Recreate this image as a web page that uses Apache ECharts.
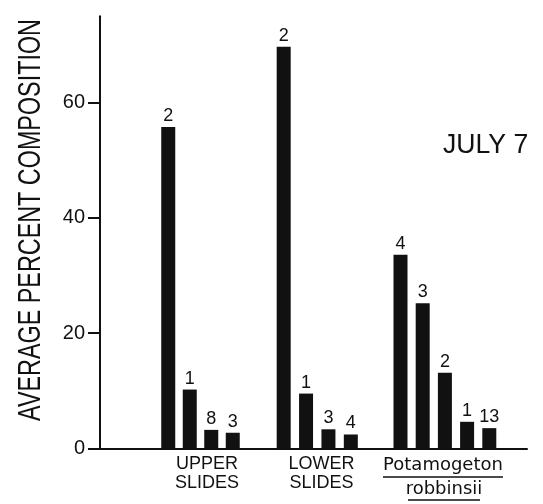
<!DOCTYPE html>
<html>
<head>
<meta charset="utf-8">
<script src="https://cdn.jsdelivr.net/npm/echarts@6/dist/echarts.min.js"></script>
<style>
html,body{margin:0;padding:0;background:#fff;}
#chart{width:543px;height:504px;}
</style>
</head>
<body>
<div id="chart"></div>
<script>
// ---- data ----
const yTicks = [0, 20, 40, 60];
const yMax = 75;
const groupNames = ['UPPER\nSLIDES', 'LOWER\nSLIDES', 'Potamogeton\nrobbinsii'];
const upperSlides = [55.8, 10.2, 3.2, 2.7];
const lowerSlides = [69.7, 9.5, 3.3, 2.4];
const potamogeton = [33.6, 25.2, 13.1, 4.6, 3.5];
const upperLabels = ['2', '1', '8', '3'];
const lowerLabels = ['2', '1', '3', '4'];
const potamogetonLabels = ['4', '3', '2', '1', '13'];
const yTitle = 'AVERAGE PERCENT COMPOSITION';
const dateText = 'JULY 7';

// ---- layout ----
const TOP = 16.3, HEIGHT = 432;
const panels = [
  {left: 157.5, width: 86, values: upperSlides, labels: upperLabels},
  {left: 272.5, width: 89.5, values: lowerSlides, labels: lowerLabels},
  {left: 389.4, width: 111, values: potamogeton, labels: potamogetonLabels}
];
const INK = '#111';
const FONT = '"Liberation Sans", Arial, sans-serif';

const grids = [{left: 100, top: TOP, width: 427, height: HEIGHT}];
const xAxes = [{
  gridIndex: 0, type: 'value', min: 0, max: 1,
  axisLine: {show: true, lineStyle: {color: INK, width: 2}},
  axisTick: {show: false}, axisLabel: {show: false}, splitLine: {show: false}
}];
const yAxes = [{
  gridIndex: 0, type: 'value', min: 0, max: yMax, interval: 20,
  axisLine: {show: true, lineStyle: {color: INK, width: 2}},
  axisTick: {show: true, length: 12, inside: false, customValues: yTicks, lineStyle: {color: INK, width: 2}},
  axisLabel: {show: true, customValues: yTicks, margin: 15, fontSize: 20, color: INK, fontFamily: FONT},
  splitLine: {show: false}
}];
const series = [];
panels.forEach((p, k) => {
  const gi = k + 1;
  grids.push({left: p.left, top: TOP, width: p.width, height: HEIGHT});
  xAxes.push({
    gridIndex: gi, type: 'category', data: p.values.map((_, i) => String(i)),
    axisLine: {show: false}, axisTick: {show: false}, axisLabel: {show: false}
  });
  yAxes.push({
    gridIndex: gi, type: 'value', min: 0, max: yMax, show: false, splitLine: {show: false}
  });
  series.push({
    type: 'bar', xAxisIndex: gi, yAxisIndex: gi, barWidth: 14,
    itemStyle: {color: INK},
    data: p.values,
    label: {
      show: true, position: 'top', distance: 2, fontSize: 18, color: INK, fontFamily: FONT,
      formatter: (prm) => p.labels[prm.dataIndex]
    },
    silent: true, animation: false
  });
});

function txt(text, x, y, size, opts) {
  opts = opts || {};
  return {
    type: 'text', x: x, y: y, rotation: opts.rotation || 0,
    scaleX: opts.scaleX || 1, scaleY: 1,
    style: {
      text: text, fontSize: size, fontFamily: opts.family || FONT, fill: INK,
      align: opts.align || 'center', textAlign: opts.align || 'center',
      verticalAlign: 'middle', textVerticalAlign: 'middle',
      lineHeight: opts.lineHeight
    }
  };
}
const potLines = groupNames[2].split('\n');
const graphics = [
  txt(yTitle, 31.5, 220, 32, {rotation: Math.PI / 2, scaleX: 0.73}),
  txt(dateText, 443, 145, 28, {align: 'left', scaleX: 0.95}),
  txt(groupNames[0], 207, 474, 18, {lineHeight: 19}),
  txt(groupNames[1], 321.5, 474, 18, {lineHeight: 19}),
  txt(potLines[0], 443, 465.5, 18, {family: '"DejaVu Sans", sans-serif'}),
  txt(potLines[1], 444, 489, 18, {family: '"DejaVu Sans", sans-serif'}),
  {type: 'line', shape: {x1: 383, y1: 477, x2: 503, y2: 477}, style: {stroke: INK, lineWidth: 1.5}},
  {type: 'line', shape: {x1: 408, y1: 500, x2: 480, y2: 500}, style: {stroke: INK, lineWidth: 1.5}}
];

const chart = echarts.init(document.getElementById('chart'), null, {renderer: 'canvas'});
chart.setOption({
  animation: false,
  backgroundColor: '#fff',
  grid: grids,
  xAxis: xAxes,
  yAxis: yAxes,
  series: series,
  graphic: graphics
});
</script>
</body>
</html>
